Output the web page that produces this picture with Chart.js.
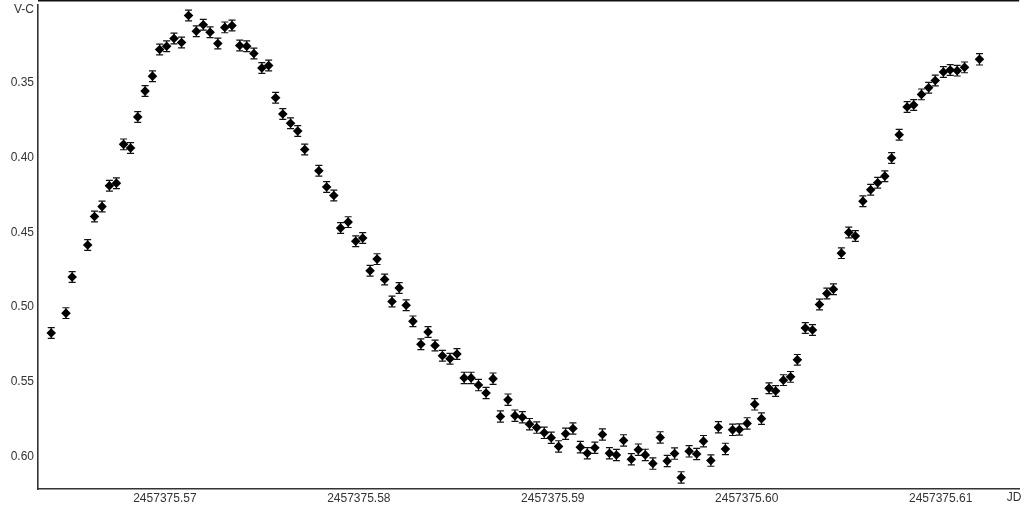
<!DOCTYPE html>
<html>
<head>
<meta charset="utf-8">
<script src="https://cdn.jsdelivr.net/npm/chart.js@4"></script>
<style>
  html, body { margin: 0; padding: 0; background: #fff; }
  .wrap { width: 1024px; height: 508px; position: relative; }
</style>
</head>
<body>
<div class="wrap"><canvas id="lc"></canvas></div>
<script>
/* DATA */

var JD0 = 2457375;

// fractional part of the Julian Date for each observation
var jdFrac = [
  0.56414, 0.56490, 0.56522, 0.56602, 0.56637, 0.56676, 0.56714, 0.56750, 0.56787, 0.56823,
  0.56860, 0.56898, 0.56936, 0.56973, 0.57009, 0.57047, 0.57086, 0.57122, 0.57162, 0.57198,
  0.57233, 0.57273, 0.57309, 0.57346, 0.57386, 0.57422, 0.57459, 0.57500, 0.57535, 0.57571,
  0.57608, 0.57648, 0.57685, 0.57721, 0.57794, 0.57834, 0.57871, 0.57906, 0.57945, 0.57984,
  0.58020, 0.58058, 0.58094, 0.58133, 0.58171, 0.58208, 0.58244, 0.58279, 0.58320, 0.58357,
  0.58393, 0.58431, 0.58470, 0.58506, 0.58543, 0.58579, 0.58617, 0.58656, 0.58692, 0.58730,
  0.58769, 0.58805, 0.58843, 0.58880, 0.58917, 0.58956, 0.58992, 0.59030, 0.59066, 0.59104,
  0.59142, 0.59178, 0.59217, 0.59256, 0.59292, 0.59328, 0.59365, 0.59405, 0.59441, 0.59477,
  0.59516, 0.59554, 0.59590, 0.59628, 0.59662, 0.59703, 0.59742, 0.59777, 0.59815, 0.59854,
  0.59890, 0.59927, 0.59962, 0.60002, 0.60041, 0.60076, 0.60115, 0.60149, 0.60189, 0.60226,
  0.60261, 0.60302, 0.60339, 0.60375, 0.60413, 0.60447, 0.60488, 0.60526, 0.60560, 0.60599,
  0.60639, 0.60675, 0.60712, 0.60747, 0.60786, 0.60827, 0.60861, 0.60901, 0.60938, 0.60972,
  0.61014, 0.61049, 0.61085, 0.61123, 0.61200
];

// V-C magnitude difference
var vc = [
  0.5174, 0.5041, 0.4799, 0.4584, 0.4393, 0.4327, 0.4187, 0.4170, 0.3910, 0.3934,
  0.3726, 0.3553, 0.3453, 0.3274, 0.3252, 0.3201, 0.3227, 0.3046, 0.3152, 0.3108,
  0.3159, 0.3234, 0.3126, 0.3114, 0.3247, 0.3252, 0.3301, 0.3398, 0.3382, 0.3598,
  0.3706, 0.3768, 0.3821, 0.3944, 0.4087, 0.4196, 0.4253, 0.4471, 0.4431, 0.4559,
  0.4537, 0.4757, 0.4679, 0.4815, 0.4963, 0.4872, 0.4988, 0.5096, 0.5249, 0.5167,
  0.5258, 0.5327, 0.5347, 0.5315, 0.5475, 0.5475, 0.5523, 0.5576, 0.5480, 0.5734,
  0.5621, 0.5728, 0.5739, 0.5785, 0.5808, 0.5843, 0.5876, 0.5934, 0.5849, 0.5814,
  0.5939, 0.5980, 0.5943, 0.5854, 0.5980, 0.5992, 0.5894, 0.6020, 0.5956, 0.5991,
  0.6049, 0.5874, 0.6032, 0.5982, 0.6142, 0.5967, 0.5985, 0.5899, 0.6029, 0.5806,
  0.5951, 0.5823, 0.5821, 0.5780, 0.5652, 0.5748, 0.5544, 0.5563, 0.5490, 0.5468,
  0.5354, 0.5141, 0.5154, 0.4983, 0.4910, 0.4881, 0.4639, 0.4500, 0.4524, 0.4291,
  0.4214, 0.4167, 0.4123, 0.4001, 0.3846, 0.3660, 0.3646, 0.3575, 0.3531, 0.3482,
  0.3425, 0.3412, 0.3416, 0.3394, 0.3340
];

// error of each measurement
var vcErr = [
  0.0036, 0.0036, 0.0036, 0.0036, 0.0036, 0.0036, 0.0036, 0.0036, 0.0036, 0.0036,
  0.0036, 0.0036, 0.0036, 0.0036, 0.0036, 0.0036, 0.0036, 0.0036, 0.0036, 0.0036,
  0.0036, 0.0036, 0.0036, 0.0036, 0.0036, 0.0036, 0.0036, 0.0036, 0.0036, 0.0036,
  0.0036, 0.0036, 0.0036, 0.0036, 0.0036, 0.0036, 0.0036, 0.0036, 0.0036, 0.0036,
  0.0036, 0.0036, 0.0036, 0.0036, 0.0036, 0.0036, 0.0036, 0.0036, 0.0036, 0.0036,
  0.0036, 0.0036, 0.0036, 0.0036, 0.0038, 0.0038, 0.0038, 0.0038, 0.0038, 0.0038,
  0.0038, 0.0038, 0.0038, 0.0038, 0.0038, 0.0038, 0.0038, 0.0038, 0.0038, 0.0038,
  0.0038, 0.0038, 0.0038, 0.0038, 0.0038, 0.0038, 0.0038, 0.0038, 0.0038, 0.0038,
  0.0038, 0.0038, 0.0038, 0.0038, 0.0038, 0.0038, 0.0038, 0.0038, 0.0038, 0.0038,
  0.0038, 0.0038, 0.0038, 0.0038, 0.0038, 0.0038, 0.0036, 0.0036, 0.0036, 0.0036,
  0.0036, 0.0036, 0.0036, 0.0036, 0.0036, 0.0036, 0.0036, 0.0036, 0.0036, 0.0036,
  0.0036, 0.0036, 0.0036, 0.0036, 0.0036, 0.0036, 0.0036, 0.0036, 0.0036, 0.0036,
  0.0036, 0.0036, 0.0036, 0.0036, 0.0038
];

var xTicks = [0.57, 0.58, 0.59, 0.60, 0.61];
var yTicks = [0.35, 0.40, 0.45, 0.50, 0.55, 0.60];

/* PLUGINS */

var FAMILY = "'Liberation Sans', Arial, sans-serif";
var FONT = "12px " + FAMILY;
var TEXT = '#333';

var errorBars = {
  id: 'errorBars',
  beforeDatasetsDraw: function(chart) {
    var ctx = chart.ctx, x = chart.scales.x, y = chart.scales.y;
    ctx.save();
    ctx.strokeStyle = '#111';
    ctx.lineWidth = 1.2;
    for (var i = 0; i < vc.length; i++) {
      var px = x.getPixelForValue(JD0 + jdFrac[i]);
      var top = y.getPixelForValue(vc[i] - vcErr[i]);
      var bot = y.getPixelForValue(vc[i] + vcErr[i]);
      ctx.beginPath();
      ctx.moveTo(px, top); ctx.lineTo(px, bot);
      ctx.moveTo(px - 3.5, top); ctx.lineTo(px + 3.5, top);
      ctx.moveTo(px - 3.5, bot); ctx.lineTo(px + 3.5, bot);
      ctx.stroke();
    }
    ctx.restore();
  }
};

var frame = {
  id: 'frame',
  afterDraw: function(chart) {
    var ctx = chart.ctx, a = chart.chartArea;
    ctx.save();
    ctx.strokeStyle = '#111';
    ctx.lineWidth = 1.5;
    ctx.beginPath();
    ctx.moveTo(a.left, 0.75);
    ctx.lineTo(a.right, 0.75);
    ctx.stroke();
    ctx.fillStyle = TEXT;
    ctx.font = FONT;
    ctx.textBaseline = 'middle';
    ctx.textAlign = 'right';
    ctx.fillText('V-C', 34, 10);
    ctx.textAlign = 'center';
    ctx.fillText('JD', 1014, 498);
    ctx.restore();
  }
};

/* CHART */

var points = jdFrac.map(function(f, i) { return { x: JD0 + f, y: vc[i] }; });

var tickFont = { family: FAMILY, size: 12 };

new Chart(document.getElementById('lc'), {
  type: 'scatter',
  data: {
    datasets: [{
      label: 'V-C',
      data: points,
      pointStyle: 'rectRot',
      pointRadius: 4.8,
      pointBackgroundColor: '#000',
      pointBorderColor: '#000',
      pointBorderWidth: 0,
    }]
  },
  options: {
    responsive: true,
    maintainAspectRatio: false,
    animation: false,
    layout: { padding: { top: 1, left: 0, right: 0, bottom: 0 } },
    plugins: { legend: { display: false }, tooltip: { enabled: false } },
    scales: {
      x: {
        type: 'linear',
        min: JD0 + 0.563458,
        max: JD0 + 0.614048,
        grid: { display: false, drawTicks: false },
        border: { display: true, color: '#333', width: 1.6 },
        afterBuildTicks: function(scale) {
          scale.ticks = xTicks.map(function(v) { return { value: JD0 + v }; });
        },
        afterFit: function(scale) {
          scale.height = 19;
          scale.paddingLeft = 0;
          scale.paddingRight = 0;
        },
        ticks: {
          padding: 2,
          maxRotation: 0,
          autoSkip: false,
          color: TEXT,
          font: tickFont,
          callback: function(v) { return Number(v).toFixed(2); }
        }
      },
      y: {
        type: 'linear',
        reverse: true,
        min: 0.29747,
        max: 0.62195,
        grid: { display: false, drawTicks: false },
        border: { display: true, color: '#333', width: 1.6 },
        afterBuildTicks: function(scale) {
          scale.ticks = yTicks.map(function(v) { return { value: v }; });
        },
        afterFit: function(scale) {
          scale.width = 38;
          scale.paddingTop = 0;
          scale.paddingBottom = 0;
        },
        ticks: {
          padding: 4,
          autoSkip: false,
          color: TEXT,
          font: tickFont,
          callback: function(v) { return Number(v).toFixed(2); }
        }
      }
    }
  },
  plugins: [errorBars, frame]
});
</script>
</body>
</html>
